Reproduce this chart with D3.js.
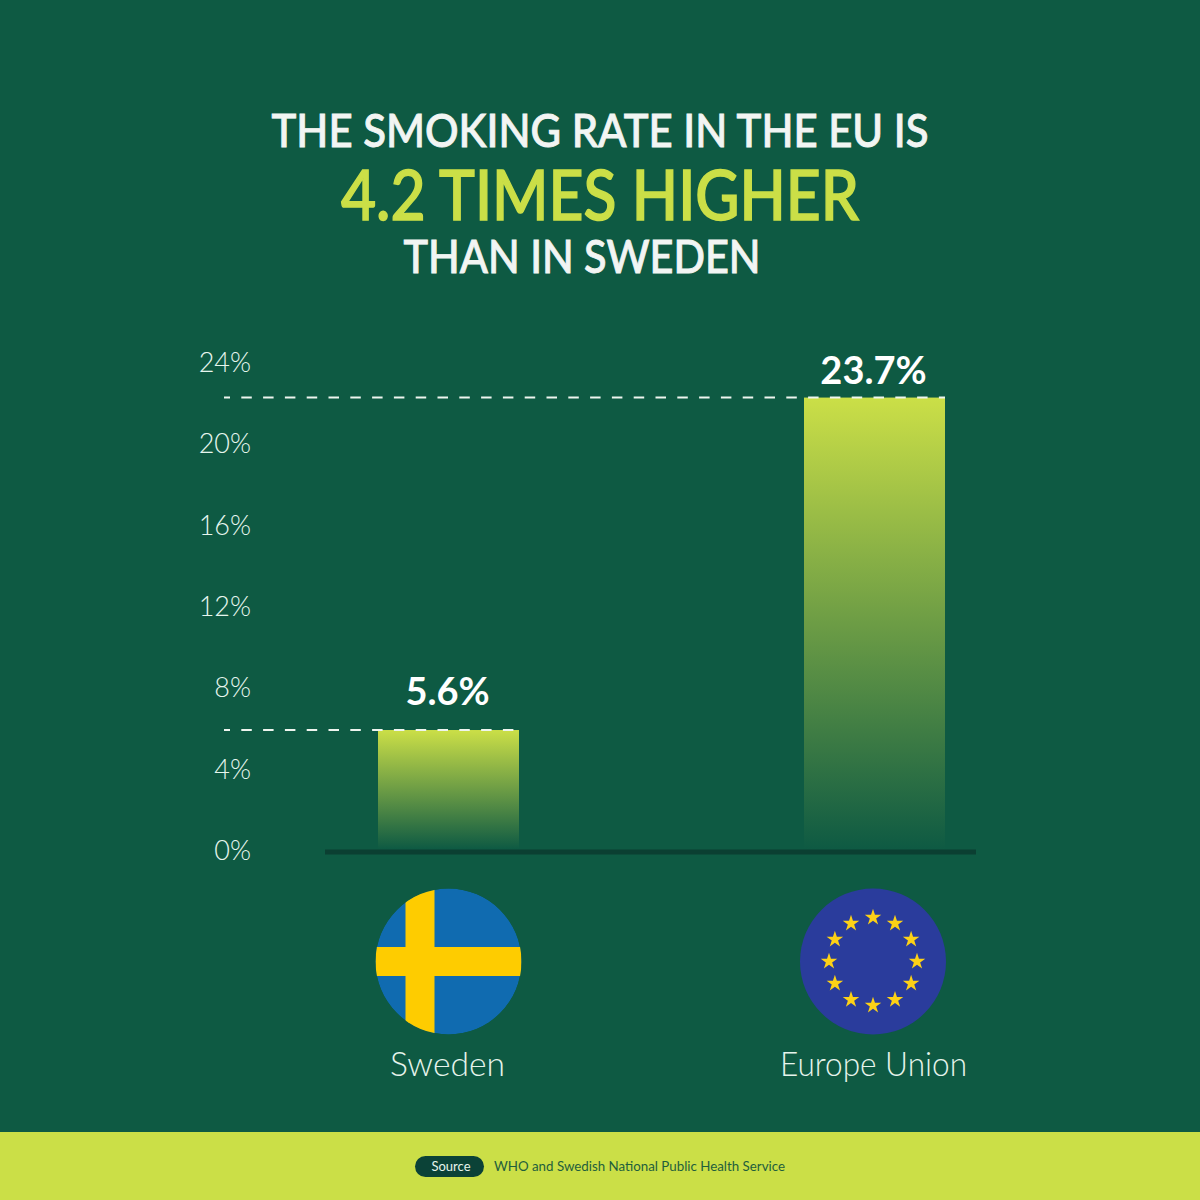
<!DOCTYPE html>
<html><head><meta charset="utf-8">
<script src="https://cdn.jsdelivr.net/npm/d3@7"></script>
<style>html,body{margin:0;padding:0;background:#0e5a43}svg{display:block}text{font-family:Lato,"Open Sans",sans-serif}</style>
</head><body><div id="c"></div>
<script>
const categories = ["Sweden", "Europe Union"];
const valueLabels = ["5.6%", "23.7%"];
const barLevels = [5.95, 22.3]; // bar tops as read against the printed axis
const tickValues = [0, 4, 8, 12, 16, 20, 24];
const titleLines = ["THE SMOKING RATE IN THE EU IS", "4.2 TIMES HIGHER", "THAN IN SWEDEN"];
const sourceTag = "Source";
const sourceText = "WHO and Swedish National Public Health Service";

const W = 1200, H = 1200, BG = "#0e5a43", LIME = "#cbdf47";
const svg = d3.select("#c").append("svg").attr("width", W).attr("height", H);
svg.append("rect").attr("width", W).attr("height", H).attr("fill", BG);

const defs = svg.append("defs");
const grad = defs.append("linearGradient").attr("id", "barGrad").attr("x1", 0).attr("x2", 0).attr("y1", 0).attr("y2", 1);
grad.append("stop").attr("offset", 0).attr("stop-color", LIME);
grad.append("stop").attr("offset", 1).attr("stop-color", BG);

const y = d3.scaleLinear().domain([0, 24]).range([851, 363]);
const p = 1 - 141 / 426;
const x = d3.scaleBand().domain(categories).range([235.5, 1087.5]).paddingInner(p).paddingOuter(p / 2);

// Title
const titleSpec = [
  {size: 46, stroke: 0.9, fill: "#f2f5f3", cx: 600, base: 147, len: 657},
  {size: 69, stroke: 1.5, fill: LIME, cx: 600, base: 220, len: 518},
  {size: 46, stroke: 0.9, fill: "#f2f5f3", cx: 582, base: 273, len: 357}
];
svg.selectAll("text.title").data(titleLines).join("text").attr("class", "title")
  .attr("x", (d, i) => titleSpec[i].cx).attr("y", (d, i) => titleSpec[i].base)
  .attr("text-anchor", "middle").attr("font-size", (d, i) => titleSpec[i].size)
  .attr("font-weight", 500).attr("fill", (d, i) => titleSpec[i].fill)
  .attr("stroke", (d, i) => titleSpec[i].fill).attr("stroke-width", (d, i) => titleSpec[i].stroke)
  .attr("textLength", (d, i) => titleSpec[i].len).attr("lengthAdjust", "spacingAndGlyphs").text(d => d);

// Axis
const axis = d3.axisLeft(y).tickValues(tickValues).tickFormat(d => d + "%").tickSize(0).tickPadding(0);
const ag = svg.append("g").attr("transform", "translate(251,-1)").call(axis);
ag.select(".domain").remove();
ag.selectAll("text").attr("font-size", 27).attr("font-weight", 300).attr("fill", "#e6f6ee")
  .style("font-family", "Lato").attr("dy", "0.35em");

// Bars
svg.selectAll("rect.bar").data(categories).join("rect").attr("class", "bar")
  .attr("x", d => x(d)).attr("width", x.bandwidth())
  .attr("y", (d, i) => y(barLevels[i])).attr("height", (d, i) => y(0) - y(barLevels[i]) - 2)
  .attr("fill", "url(#barGrad)");

// Dashed leader lines
svg.selectAll("line.lead").data(categories).join("line").attr("class", "lead")
  .attr("x1", 224).attr("x2", d => x(d) + x.bandwidth())
  .attr("y1", (d, i) => y(barLevels[i])).attr("y2", (d, i) => y(barLevels[i]))
  .attr("stroke", "#eef5ef").attr("stroke-width", 2)
  .attr("stroke-dasharray", "10.5 11.3").attr("stroke-dashoffset", 4.5);

// Baseline
svg.append("line").attr("x1", 325).attr("x2", 976).attr("y1", y(0) + 1).attr("y2", y(0) + 1)
  .attr("stroke", "#0b3f32").attr("stroke-width", 5);

// Value labels
const labelGaps = [25, 14];
svg.selectAll("text.val").data(valueLabels).join("text").attr("class", "val")
  .attr("x", (d, i) => x(categories[i]) + x.bandwidth() / 2 - 1)
  .attr("y", (d, i) => y(barLevels[i]) - labelGaps[i])
  .attr("text-anchor", "middle").attr("font-size", 38).attr("font-weight", 700).attr("fill", "#fff").text(d => d);

// Flags
const flagR = 73, flagY = 961.5;
const clip = defs.append("clipPath").attr("id", "flagClip");
clip.append("circle").attr("r", flagR);
const sweden = svg.append("g").attr("transform", `translate(${x(categories[0]) + x.bandwidth() / 2},${flagY})`).attr("clip-path", "url(#flagClip)");
sweden.append("circle").attr("r", flagR).attr("fill", "#106bb0");
sweden.append("rect").attr("x", -43).attr("y", -flagR).attr("width", 29).attr("height", flagR * 2).attr("fill", "#fecc00");
sweden.append("rect").attr("x", -flagR).attr("y", -14.5).attr("width", flagR * 2).attr("height", 29).attr("fill", "#fecc00");

const eu = svg.append("g").attr("transform", `translate(${x(categories[1]) + x.bandwidth() / 2 - 1.5},${flagY})`);
eu.append("circle").attr("r", flagR).attr("fill", "#2a3c9c");
const star = d3.symbol().type(d3.symbolStar).size(85);
eu.selectAll("path").data(d3.range(12)).join("path").attr("d", star).attr("fill", "#fdd116")
  .attr("transform", d => `translate(${44 * Math.sin(d * Math.PI / 6)},${-44 * Math.cos(d * Math.PI / 6)})`);

// Category labels
const catWidths = [115, 187];
svg.selectAll("text.cat").data(categories).join("text").attr("class", "cat")
  .attr("x", d => x(d) + x.bandwidth() / 2 - 1).attr("y", 1076)
  .attr("text-anchor", "middle").attr("font-size", 33).attr("font-weight", 300).attr("fill", "#e6f4ec")
  .attr("textLength", (d, i) => catWidths[i]).attr("lengthAdjust", "spacingAndGlyphs").text(d => d);

// Footer
svg.append("rect").attr("x", 0).attr("y", 1132).attr("width", W).attr("height", 68).attr("fill", LIME);
svg.append("rect").attr("x", 415).attr("y", 1156).attr("width", 69).attr("height", 21).attr("rx", 10.5).attr("fill", "#0b4237");
svg.append("text").attr("x", 451).attr("y", 1171).attr("text-anchor", "middle").attr("font-size", 13).attr("fill", "#e6f4ec").text(sourceTag);
svg.append("text").attr("x", 494).attr("y", 1171).attr("font-size", 14).attr("fill", "#1f5e3c")
  .attr("textLength", 291).attr("lengthAdjust", "spacingAndGlyphs").text(sourceText);
</script></body></html>
